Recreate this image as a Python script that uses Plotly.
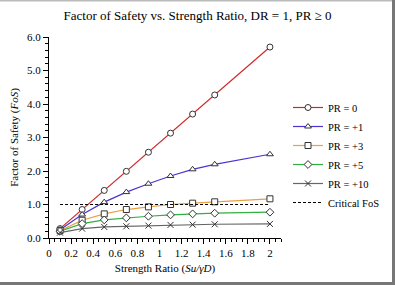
import plotly.graph_objects as go

strength_ratio = [0.1, 0.3, 0.5, 0.7, 0.9, 1.1, 1.3, 1.5, 2.0]
fos_pr0 = [0.28, 0.85, 1.42, 1.99, 2.56, 3.13, 3.70, 4.27, 5.70]
fos_pr1 = [0.25, 0.70, 1.07, 1.37, 1.62, 1.85, 2.05, 2.20, 2.50]
fos_pr3 = [0.22, 0.53, 0.72, 0.85, 0.93, 1.00, 1.04, 1.08, 1.17]
fos_pr5 = [0.20, 0.43, 0.54, 0.60, 0.65, 0.69, 0.72, 0.74, 0.77]
fos_pr10 = [0.16, 0.28, 0.33, 0.35, 0.37, 0.39, 0.40, 0.41, 0.42]
crit_x = [0.1, 2.0]
crit_fos = 1.0

series = [
    ("PR = 0", fos_pr0, "#d02828", "circle"),
    ("PR = +1", fos_pr1, "#4a35d0", "triangle-up"),
    ("PR = +3", fos_pr3, "#e8a045", "square"),
    ("PR = +5", fos_pr5, "#30b040", "diamond"),
    ("PR = +10", fos_pr10, "#666666", "x-thin-open"),
]

FONT = "Times New Roman, Liberation Serif, serif"
fig = go.Figure()
for name, ys, color, sym in series:
    fig.add_trace(go.Scatter(
        x=strength_ratio, y=ys, name=name, mode="lines+markers",
        line=dict(color=color, width=1.2),
        marker=dict(symbol=sym, size=6,
                    color="#333333" if sym.startswith("x") else "white",
                    line=dict(color="#333333", width=1)),
    ))
fig.add_trace(go.Scatter(
    x=crit_x, y=[crit_fos] * len(crit_x), name="Critical FoS", mode="lines",
    line=dict(color="black", width=1.2, dash="3px,2px"),
))

W, H = 395, 285
L, R, T, B = 49, 114, 37, 47
pw, ph = W - L - R, H - T - B
def px(x):
    return (x - L) / pw
def py(y):
    return (H - B - y) / ph

fig.update_layout(
    width=W, height=H,
    margin=dict(l=L, r=R, t=T, b=B, autoexpand=False),
    paper_bgcolor="white", plot_bgcolor="white",
    font=dict(family=FONT, size=11, color="black"),
    title=dict(text="Factor of Safety vs. Strength Ratio, DR = 1, PR ≥ 0",
               x=0.5, xanchor="center", y=1 - 15 / H, yanchor="middle",
               font=dict(family=FONT, size=13, color="black")),
    xaxis=dict(range=[0, 2.1], tickvals=[0, 0.2, 0.4, 0.6, 0.8, 1, 1.2, 1.4, 1.6, 1.8, 2],
               ticktext=["0", "0.2", "0.4", "0.6", "0.8", "1", "1.2", "1.4", "1.6", "1.8", "2"],
               showline=True, linecolor="black", linewidth=1, showgrid=False, zeroline=False,
               ticks="outside", ticklen=5, tickcolor="black",
               minor=dict(dtick=0.05, ticks="outside", ticklen=3, tickcolor="black"),
               title=dict(text="Strength Ratio (<i>Su/γD</i>)", standoff=6,
                          font=dict(family=FONT, size=11, color="black")),
               tickfont=dict(family=FONT, size=11, color="black")),
    yaxis=dict(range=[0, 6], dtick=1, tickformat=".1f",
               showline=True, linecolor="black", linewidth=1, showgrid=False, zeroline=False,
               ticks="outside", ticklen=5, tickcolor="black",
               minor=dict(dtick=0.2, ticks="outside", ticklen=3, tickcolor="black"),
               title=dict(text="Factor of Safety (<i>FoS</i>)", standoff=6,
                          font=dict(family=FONT, size=11, color="black")),
               tickfont=dict(family=FONT, size=11, color="black")),
    legend=dict(x=px(288), y=py(93), xanchor="left", yanchor="top",
                bgcolor="rgba(0,0,0,0)", font=dict(family=FONT, size=10.5, color="black"),
                tracegroupgap=0, itemwidth=30),
    showlegend=True,
    shapes=[
        dict(type="rect", xref="paper", yref="paper", x0=px(0), x1=px(W), y0=py(0), y1=py(1.5),
             fillcolor="#bbbbbb", line=dict(width=0), layer="above"),
        dict(type="rect", xref="paper", yref="paper", x0=px(392), x1=px(W), y0=py(H), y1=py(0),
             fillcolor="#777777", line=dict(width=0), layer="above"),
        dict(type="rect", xref="paper", yref="paper", x0=px(0), x1=px(W), y0=py(H), y1=py(282),
             fillcolor="#777777", line=dict(width=0), layer="above"),
    ],
)
fig.write_html("out.html")
